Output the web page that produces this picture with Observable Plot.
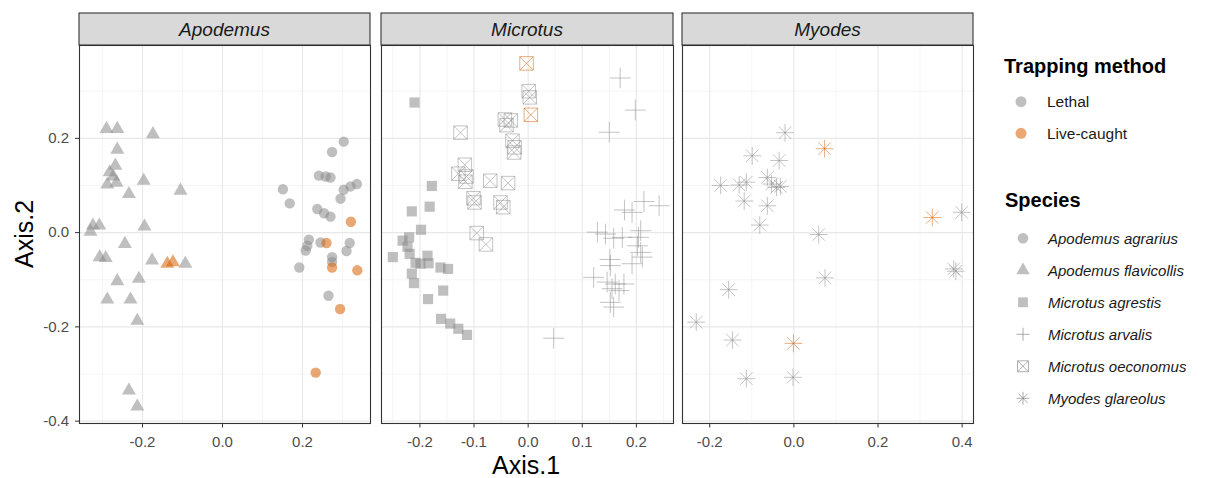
<!DOCTYPE html>
<html><head><meta charset="utf-8">
<script src="https://cdn.jsdelivr.net/npm/d3@7"></script>
<script src="https://cdn.jsdelivr.net/npm/@observablehq/plot@0.6"></script>
<style>
body{margin:0;background:#fff;}
#wrap{position:relative;width:1208px;height:478px;overflow:hidden;background:#fff;font-family:"Liberation Sans",Arial,sans-serif;}
#wrap svg{position:absolute;top:0;}
</style></head><body><div id="wrap"></div>
<script>
// ---------- categories ----------
const methods = ["Lethal", "Live-caught"];
const methodColors = ["#8a8a8a", "#d55e00"];
const genera = ["Apodemus", "Microtus", "Myodes"];
const speciesNames = ["Apodemus agrarius", "Apodemus flavicollis", "Microtus agrestis", "Microtus arvalis", "Microtus oeconomus", "Myodes glareolus"];

// ---------- ticks ----------
const yDomain = [-0.405, 0.397];
const yMajor = [-0.4, -0.2, 0.0, 0.2];
const yMinor = [-0.3, -0.1, 0.1, 0.3];
const xDomainApodemus = [-0.3575, 0.37];
const xMajorApodemus = [-0.2, 0.0, 0.2];
const xMinorApodemus = [-0.3, -0.1, 0.1, 0.3];
const xDomainMicrotus = [-0.271, 0.2686];
const xMajorMicrotus = [-0.2, -0.1, 0.0, 0.1, 0.2];
const xMinorMicrotus = [-0.25, -0.15, -0.05, 0.05, 0.15, 0.25];
const xDomainMyodes = [-0.2647, 0.427];
const xMajorMyodes = [-0.2, 0.0, 0.2, 0.4];
const xMinorMyodes = [-0.1, 0.1, 0.3];

// ---------- data: [Axis.1, Axis.2, method index] ----------
const apodemusAgrarius = [
  [0.303,0.193,0],[0.274,0.171,0],[0.241,0.121,0],[0.258,0.119,0],[0.270,0.117,0],[0.151,0.092,0],
  [0.168,0.062,0],[0.303,0.091,0],[0.320,0.098,0],[0.336,0.103,0],[0.295,0.072,0],[0.237,0.050,0],
  [0.254,0.041,0],[0.270,0.034,0],[0.216,-0.015,0],[0.212,-0.028,0],[0.208,-0.038,0],[0.245,-0.021,0],
  [0.318,-0.022,0],[0.310,-0.039,0],[0.274,-0.052,0],[0.274,-0.062,0],[0.192,-0.074,0],[0.265,-0.134,0],
  [0.321,0.023,1],[0.260,-0.022,1],[0.274,-0.074,1],[0.337,-0.080,1],[0.294,-0.162,1],[0.233,-0.297,1]
];
const apodemusFlavicollis = [
  [-0.290,0.220,0],[-0.263,0.220,0],[-0.174,0.209,0],[-0.263,0.176,0],[-0.268,0.142,0],[-0.282,0.128,0],
  [-0.273,0.119,0],[-0.288,0.102,0],[-0.265,0.106,0],[-0.234,0.082,0],[-0.197,0.110,0],[-0.105,0.089,0],
  [-0.324,0.015,0],[-0.308,0.015,0],[-0.330,0.002,0],[-0.195,0.013,0],[-0.244,-0.024,0],[-0.307,-0.052,0],
  [-0.292,-0.054,0],[-0.263,-0.103,0],[-0.209,-0.098,0],[-0.288,-0.142,0],[-0.230,-0.142,0],[-0.213,-0.187,0],
  [-0.234,-0.335,0],[-0.213,-0.369,0],[-0.176,-0.059,0],[-0.093,-0.066,0],
  [-0.138,-0.066,1],[-0.124,-0.063,1]
];
const microtusAgrestis = [
  [-0.210,0.276,0],[-0.178,0.099,0],[-0.182,0.055,0],[-0.215,0.045,0],[-0.198,0.006,0],[-0.220,-0.010,0],
  [-0.232,-0.017,0],[-0.223,-0.030,0],[-0.250,-0.052,0],[-0.219,-0.045,0],[-0.186,-0.049,0],[-0.199,-0.066,0],
  [-0.208,-0.064,0],[-0.184,-0.065,0],[-0.162,-0.074,0],[-0.148,-0.077,0],[-0.215,-0.087,0],[-0.211,-0.107,0],
  [-0.157,-0.123,0],[-0.185,-0.141,0],[-0.161,-0.183,0],[-0.144,-0.193,0],[-0.129,-0.204,0],[-0.113,-0.217,0]
];
const microtusArvalis = [
  [0.170,0.328,0],[0.198,0.260,0],[0.150,0.213,0],[0.214,0.066,0],[0.242,0.057,0],[0.178,0.048,0],
  [0.192,0.043,0],[0.128,0.001,0],[0.143,-0.003,0],[0.208,0.004,0],[0.174,-0.010,0],[0.204,-0.010,0],
  [0.158,-0.012,0],[0.202,-0.028,0],[0.208,-0.042,0],[0.151,-0.057,0],[0.211,-0.052,0],[0.192,-0.066,0],
  [0.152,-0.070,0],[0.121,-0.095,0],[0.146,-0.105,0],[0.161,-0.109,0],[0.177,-0.109,0],[0.155,-0.119,0],
  [0.168,-0.123,0],[0.152,-0.148,0],[0.158,-0.158,0],[0.047,-0.224,0]
];
const microtusOeconomus = [
  [0.001,0.300,0],[0.003,0.287,0],[-0.043,0.240,0],[-0.032,0.238,0],[-0.040,0.228,0],[-0.125,0.212,0],
  [-0.029,0.195,0],[-0.025,0.181,0],[-0.026,0.170,0],[-0.117,0.144,0],[-0.129,0.125,0],[-0.114,0.119,0],
  [-0.116,0.108,0],[-0.070,0.110,0],[-0.037,0.105,0],[-0.101,0.073,0],[-0.099,0.064,0],[-0.051,0.064,0],
  [-0.046,0.054,0],[-0.095,-0.001,0],[-0.078,-0.025,0],
  [-0.003,0.359,1],[0.005,0.250,1]
];
const myodesGlareolus = [
  [-0.021,0.212,0],[-0.099,0.163,0],[-0.035,0.153,0],[-0.174,0.100,0],[-0.130,0.101,0],[-0.113,0.107,0],
  [-0.063,0.117,0],[-0.053,0.103,0],[-0.041,0.096,0],[-0.032,0.098,0],[-0.118,0.067,0],[-0.063,0.057,0],
  [-0.081,0.016,0],[0.059,-0.004,0],[0.399,0.043,0],[0.385,-0.082,0],[0.380,-0.077,0],[0.074,-0.096,0],
  [-0.155,-0.121,0],[-0.232,-0.190,0],[-0.146,-0.228,0],[-0.113,-0.310,0],[-0.002,-0.307,0],
  [0.073,0.178,1],[0.329,0.032,1],[-0.001,-0.235,1]
];

// ---------- symbols (ggplot shapes 16, 17, 15, 3, 7, 8) ----------
const rad = s => Math.sqrt(s / Math.PI);
const symCircle = {draw(c, s) { const r = rad(s); c.moveTo(r, 0); c.arc(0, 0, r, 0, 2 * Math.PI); }};
const symTriangle = {draw(c, s) { const r = rad(s) * 1.555; c.moveTo(0, -r); c.lineTo(r * 0.866, r * 0.5); c.lineTo(-r * 0.866, r * 0.5); c.closePath(); }};
const symSquare = {draw(c, s) { const h = rad(s) * 0.98; c.rect(-h, -h, 2 * h, 2 * h); }};
const symPlus = {draw(c, s) { const h = rad(s) * 2; c.moveTo(-h, 0); c.lineTo(h, 0); c.moveTo(0, -h); c.lineTo(0, h); }};
const symSquareCross = {draw(c, s) { const h = rad(s) * 1.3; c.rect(-h, -h, 2 * h, 2 * h); c.moveTo(-h, -h); c.lineTo(h, h); c.moveTo(-h, h); c.lineTo(h, -h); }};
const symAsterisk = {draw(c, s) { const h = rad(s) * 1.7, d = h / Math.SQRT2; c.moveTo(-h, 0); c.lineTo(h, 0); c.moveTo(0, -h); c.lineTo(0, h); c.moveTo(-d, -d); c.lineTo(d, d); c.moveTo(-d, d); c.lineTo(d, -d); }};

const speciesDefs = [
  {name: speciesNames[0], data: apodemusAgrarius, sym: symCircle, filled: true, lr: 5.3},
  {name: speciesNames[1], data: apodemusFlavicollis, sym: symTriangle, filled: true, lr: 5.0},
  {name: speciesNames[2], data: microtusAgrestis, sym: symSquare, filled: true, lr: 5.0},
  {name: speciesNames[3], data: microtusArvalis, sym: symPlus, filled: false, lr: 3.3},
  {name: speciesNames[4], data: microtusOeconomus, sym: symSquareCross, filled: false, lr: 4.2},
  {name: speciesNames[5], data: myodesGlareolus, sym: symAsterisk, filled: false, lr: 3.8}
];

const panels = [
  {genus: genera[0], left: 0, width: 375, ml: 79, mr: 5, domain: xDomainApodemus, major: xMajorApodemus, minor: xMinorApodemus, species: [0, 1], showY: true},
  {genus: genera[1], left: 375, width: 302, ml: 6, mr: 4, domain: xDomainMicrotus, major: xMajorMicrotus, minor: xMinorMicrotus, species: [2, 3, 4], showY: false},
  {genus: genera[2], left: 677, width: 301, ml: 5, mr: 5, domain: xDomainMyodes, major: xMajorMyodes, minor: xMinorMyodes, species: [5], showY: false}
];

const fmt = d => d.toFixed(1);
const FONT = '"Liberation Sans", Arial, sans-serif';
const wrap = document.getElementById("wrap");
const H = 478, MT = 45, MB = 55;

for (const p of panels) {
  const marks = [
    Plot.gridX(p.minor, {stroke: "#f3f3f3", strokeOpacity: 1, strokeWidth: 0.8}),
    Plot.gridY(yMinor, {stroke: "#f3f3f3", strokeOpacity: 1, strokeWidth: 0.8}),
    Plot.gridX(p.major, {stroke: "#e8e8e8", strokeOpacity: 1, strokeWidth: 1.1}),
    Plot.gridY(yMajor, {stroke: "#e8e8e8", strokeOpacity: 1, strokeWidth: 1.1})
  ];
  for (const i of p.species) {
    const s = speciesDefs[i];
    const data = s.data.slice().sort((a, b) => a[2] - b[2]);
    const style = s.filled
      ? {fill: d => methods[d[2]], fillOpacity: 0.55}
      : {stroke: d => methods[d[2]], strokeOpacity: 0.5, strokeWidth: 1, fill: "none"};
    marks.push(Plot.dot(data, {x: d => d[0], y: d => d[1], symbol: s.sym, r: 5.2, ...style}));
  }
  marks.push(Plot.frame({stroke: "#333", strokeWidth: 1.1}));
  marks.push(Plot.axisX(p.major, {tickSize: 4.5, tickPadding: 8, tickFormat: fmt, label: null, color: "#4d4d4d", stroke: "#333"}));
  if (p.showY) marks.push(Plot.axisY(yMajor, {tickSize: 4, tickPadding: 6.5, tickFormat: fmt, label: null, color: "#4d4d4d", stroke: "#333"}));
  const svg = Plot.plot({
    width: p.width, height: H,
    marginLeft: p.ml, marginRight: p.mr, marginTop: MT, marginBottom: MB,
    x: {domain: p.domain, label: null},
    y: {domain: yDomain, label: null, axis: p.showY ? undefined : null},
    color: {domain: methods, range: methodColors},
    style: {fontFamily: FONT, fontSize: "15px", background: "transparent", overflow: "visible"},
    marks
  });
  svg.style.left = p.left + "px";
  const sel = d3.select(svg);
  const pw = p.width - p.ml - p.mr;
  sel.append("rect").attr("x", p.ml).attr("y", 13).attr("width", pw).attr("height", MT - 13)
    .attr("fill", "#d9d9d9").attr("stroke", "#333").attr("stroke-width", 1.1);
  sel.append("text").attr("x", p.ml + pw / 2).attr("y", 29).attr("dy", "0.36em")
    .attr("text-anchor", "middle").attr("font-style", "italic").attr("font-size", 19)
    .attr("fill", "#1a1a1a").attr("font-family", FONT).text(p.genus);
  wrap.appendChild(svg);
}

// ---------- overlay: axis titles and legends ----------
const ov = d3.select(wrap).append("svg").attr("width", 1208).attr("height", H)
  .style("left", "0px").attr("font-family", FONT);
ov.append("text").attr("x", 526).attr("y", 474).attr("text-anchor", "middle")
  .attr("font-size", 25).attr("fill", "#000").text("Axis.1");
ov.append("text").attr("transform", "translate(33,234) rotate(-90)").attr("text-anchor", "middle")
  .attr("font-size", 25).attr("fill", "#000").text("Axis.2");

ov.append("text").attr("x", 1004).attr("y", 73).attr("font-size", 20).attr("font-weight", "bold")
  .attr("fill", "#000").text("Trapping method");
methods.forEach((m, i) => {
  const cy = 101.7 + i * 31.6;
  ov.append("circle").attr("cx", 1021).attr("cy", cy).attr("r", 5.5)
    .attr("fill", methodColors[i]).attr("fill-opacity", 0.55);
  ov.append("text").attr("x", 1047).attr("y", cy).attr("dy", "0.36em").attr("font-size", 15.5)
    .attr("fill", "#1a1a1a").text(m);
});

ov.append("text").attr("x", 1005).attr("y", 207).attr("font-size", 20).attr("font-weight", "bold")
  .attr("fill", "#000").text("Species");
speciesDefs.forEach((s, i) => {
  const cy = 238.3 + i * 32;
  const path = d3.symbol().type(s.sym).size(Math.PI * s.lr * s.lr)();
  const g = ov.append("path").attr("d", path).attr("transform", `translate(1023,${cy})`);
  if (s.filled) g.attr("fill", methodColors[0]).attr("fill-opacity", 0.55);
  else g.attr("fill", "none").attr("stroke", methodColors[0]).attr("stroke-opacity", 0.7).attr("stroke-width", 1);
  ov.append("text").attr("x", 1048).attr("y", cy).attr("dy", "0.36em").attr("font-size", 15)
    .attr("font-style", "italic").attr("fill", "#1a1a1a").text(s.name);
});
</script></body></html>
